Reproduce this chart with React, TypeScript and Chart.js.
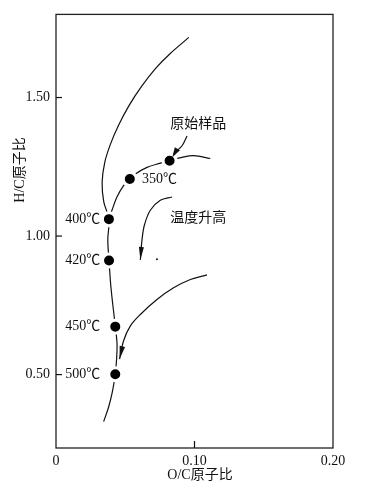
import React, { useEffect, useRef } from 'react';
import { Chart, registerables } from 'chart.js';

Chart.register(...registerables);

// ---- axes ----
const X_TITLE = 'O/C原子比';
const Y_TITLE = 'H/C原子比';
const X_MIN = 0;
const X_MAX = 0.2;
const Y_MIN = 0.235;
const Y_MAX = 1.8;
const xTickValues = [0, 0.1, 0.2];
const xTickLabels = ['0', '0.10', '0.20'];
const yTickValues = [0.5, 1.0, 1.5];
const yTickLabels = ['0.50', '1.00', '1.50'];

// ---- measured samples ----
const sampleNames = ['原始样品', '350℃', '400℃', '420℃', '450℃', '500℃'];
const sampleOC = [0.082, 0.0533, 0.0382, 0.0383, 0.0428, 0.0428];
const sampleHC = [1.272, 1.206, 1.061, 0.912, 0.673, 0.501];

// ---- main (left) trajectory curve ----
const mainOC = [0.0959, 0.0825, 0.0721, 0.0619, 0.0526, 0.045, 0.0392, 0.0352, 0.0333, 0.0345, 0.0382, 0.0374, 0.0383, 0.0396, 0.0428, 0.0441, 0.0428, 0.0404, 0.038, 0.0344];
const mainHC = [1.717, 1.659, 1.606, 1.541, 1.47, 1.398, 1.33, 1.266, 1.194, 1.123, 1.061, 0.986, 0.912, 0.819, 0.673, 0.604, 0.501, 0.431, 0.383, 0.33];

// ---- upper branch through 350℃ and original sample ----
const branchOC = [0.0382, 0.0404, 0.044, 0.0488, 0.0533, 0.0573, 0.0657, 0.0753, 0.082, 0.091, 0.0994, 0.1114];
const branchHC = [1.061, 1.093, 1.141, 1.182, 1.206, 1.224, 1.248, 1.263, 1.272, 1.284, 1.29, 1.28];

// ---- arrows ----
const arrowSampleOC = [0.0946, 0.091, 0.0861, 0.084];
const arrowSampleHC = [1.361, 1.326, 1.302, 1.284];
const arrowTempOC = [0.0838, 0.0753, 0.0681, 0.0638, 0.0621, 0.0609];
const arrowTempHC = [1.141, 1.129, 1.093, 1.039, 0.986, 0.914];
const arrowLowOC = [0.109, 0.097, 0.0849, 0.0729, 0.0609, 0.0536, 0.0488, 0.0459];
const arrowLowHC = [0.86, 0.843, 0.813, 0.771, 0.717, 0.675, 0.622, 0.556];

// small speck
const speckOC = [0.0729];
const speckHC = [0.916];

// ---- text annotations (anchor in data units) ----
const annoText = ['原始样品', '350℃', '400℃', '420℃', '450℃', '500℃', '温度升高'];
const annoOC = [0.0825, 0.0621, 0.032, 0.032, 0.032, 0.032, 0.0825];
const annoHC = [1.402, 1.206, 1.061, 0.912, 0.673, 0.501, 1.063];
const annoAlign: CanvasTextAlign[] = ['left', 'left', 'right', 'right', 'right', 'right', 'left'];

const SERIF = '"Liberation Serif", "Noto Sans CJK SC", serif';
const INK = '#111';

const zip = (xs: number[], ys: number[]) => xs.map((x, i) => ({ x, y: ys[i] }));

const lineDs = (data: { x: number; y: number }[]) => ({
  data,
  showLine: true,
  borderColor: INK,
  borderWidth: 1.2,
  pointRadius: 0,
  tension: 0.35,
  fill: false,
  order: 2,
});

const decorPlugin = {
  id: 'decor',
  afterDraw(chart: any) {
    const { ctx, chartArea: a, scales } = chart;
    const xs = scales.x;
    const ys = scales.y;
    ctx.save();
    // frame
    ctx.strokeStyle = '#222';
    ctx.lineWidth = 1.3;
    ctx.strokeRect(a.left, a.top, a.right - a.left, a.bottom - a.top);
    // inward ticks
    ctx.lineWidth = 1.2;
    ctx.strokeStyle = INK;
    yTickValues.forEach((v) => {
      const y = ys.getPixelForValue(v);
      ctx.beginPath();
      ctx.moveTo(a.left, y);
      ctx.lineTo(a.left + 6, y);
      ctx.stroke();
    });
    xTickValues.slice(1, -1).forEach((v) => {
      const x = xs.getPixelForValue(v);
      ctx.beginPath();
      ctx.moveTo(x, a.bottom);
      ctx.lineTo(x, a.bottom - 7);
      ctx.stroke();
    });
    // arrowheads
    const head = (oc: number[], hc: number[], len: number, half: number) => {
      const n = oc.length;
      const x1 = xs.getPixelForValue(oc[n - 1]);
      const y1 = ys.getPixelForValue(hc[n - 1]);
      const x0 = xs.getPixelForValue(oc[n - 2]);
      const y0 = ys.getPixelForValue(hc[n - 2]);
      const ang = Math.atan2(y1 - y0, x1 - x0);
      const bx = x1 - len * Math.cos(ang);
      const by = y1 - len * Math.sin(ang);
      ctx.fillStyle = INK;
      ctx.beginPath();
      ctx.moveTo(x1, y1);
      ctx.lineTo(bx + half * Math.sin(ang), by - half * Math.cos(ang));
      ctx.lineTo(bx - half * Math.sin(ang), by + half * Math.cos(ang));
      ctx.closePath();
      ctx.fill();
    };
    head(arrowSampleOC, arrowSampleHC, 10, 3);
    head(arrowTempOC, arrowTempHC, 13, 2.5);
    head(arrowLowOC, arrowLowHC, 13, 2.8);
    // speck
    speckOC.forEach((v, i) => {
      ctx.fillStyle = INK;
      ctx.beginPath();
      ctx.arc(xs.getPixelForValue(v), ys.getPixelForValue(speckHC[i]), 1, 0, Math.PI * 2);
      ctx.fill();
    });
    // annotations
    ctx.fillStyle = INK;
    ctx.font = `14px ${SERIF}`;
    ctx.textBaseline = 'middle';
    annoText.forEach((t, i) => {
      ctx.textAlign = annoAlign[i];
      ctx.fillText(t, xs.getPixelForValue(annoOC[i]), ys.getPixelForValue(annoHC[i]));
    });
    // axis titles
    ctx.textAlign = 'center';
    ctx.fillText(X_TITLE, 200, 475);
    ctx.translate(20, 170);
    ctx.rotate(-Math.PI / 2);
    ctx.fillText(Y_TITLE, 0, 0);
    ctx.restore();
  },
};

export default function App() {
  const ref = useRef<HTMLCanvasElement | null>(null);
  useEffect(() => {
    if (!ref.current) return;
    const chart = new Chart(ref.current, {
      type: 'scatter',
      data: {
        datasets: [
          {
            data: zip(sampleOC, sampleHC),
            label: sampleNames.join(','),
            pointRadius: 6.5,
            pointBackgroundColor: '#000',
            pointBorderColor: '#fff',
            pointBorderWidth: 3,
            showLine: false,
            order: 0,
          } as any,
          lineDs(zip(mainOC, mainHC)),
          lineDs(zip(branchOC, branchHC)),
          lineDs(zip(arrowSampleOC, arrowSampleHC)),
          lineDs(zip(arrowTempOC, arrowTempHC)),
          lineDs(zip(arrowLowOC, arrowLowHC)),
        ],
      },
      options: {
        responsive: false,
        devicePixelRatio: 1,
        animation: false,
        layout: { padding: { left: 0, right: 32, top: 10, bottom: 0 } },
        plugins: { legend: { display: false }, tooltip: { enabled: false } },
        scales: {
          x: {
            type: 'linear',
            min: X_MIN,
            max: X_MAX,
            grid: { display: false, drawTicks: false },
            border: { display: false },
            afterBuildTicks: (s: any) => {
              s.ticks = xTickValues.map((value) => ({ value }));
            },
            afterFit: (s: any) => {
              s.height = 37;
            },
            ticks: {
              autoSkip: false,
              maxRotation: 0,
              padding: 5,
              color: INK,
              font: { family: SERIF, size: 14 },
              callback: (_v: any, i: number) => xTickLabels[i],
            },
          },
          y: {
            type: 'linear',
            min: Y_MIN,
            max: Y_MAX,
            grid: { display: false, drawTicks: false },
            border: { display: false },
            afterBuildTicks: (s: any) => {
              s.ticks = yTickValues.map((value) => ({ value }));
            },
            afterFit: (s: any) => {
              s.width = 56;
            },
            ticks: {
              autoSkip: false,
              padding: 6,
              color: INK,
              font: { family: SERIF, size: 14 },
              callback: (_v: any, i: number) => yTickLabels[i],
            },
          },
        },
      },
      plugins: [decorPlugin],
    });
    return () => chart.destroy();
  }, []);
  return (
    <div style={{ position: 'absolute', left: 0, top: 0, width: 365, height: 485, background: '#fff' }}>
      <canvas ref={ref} width={365} height={485} />
    </div>
  );
}
